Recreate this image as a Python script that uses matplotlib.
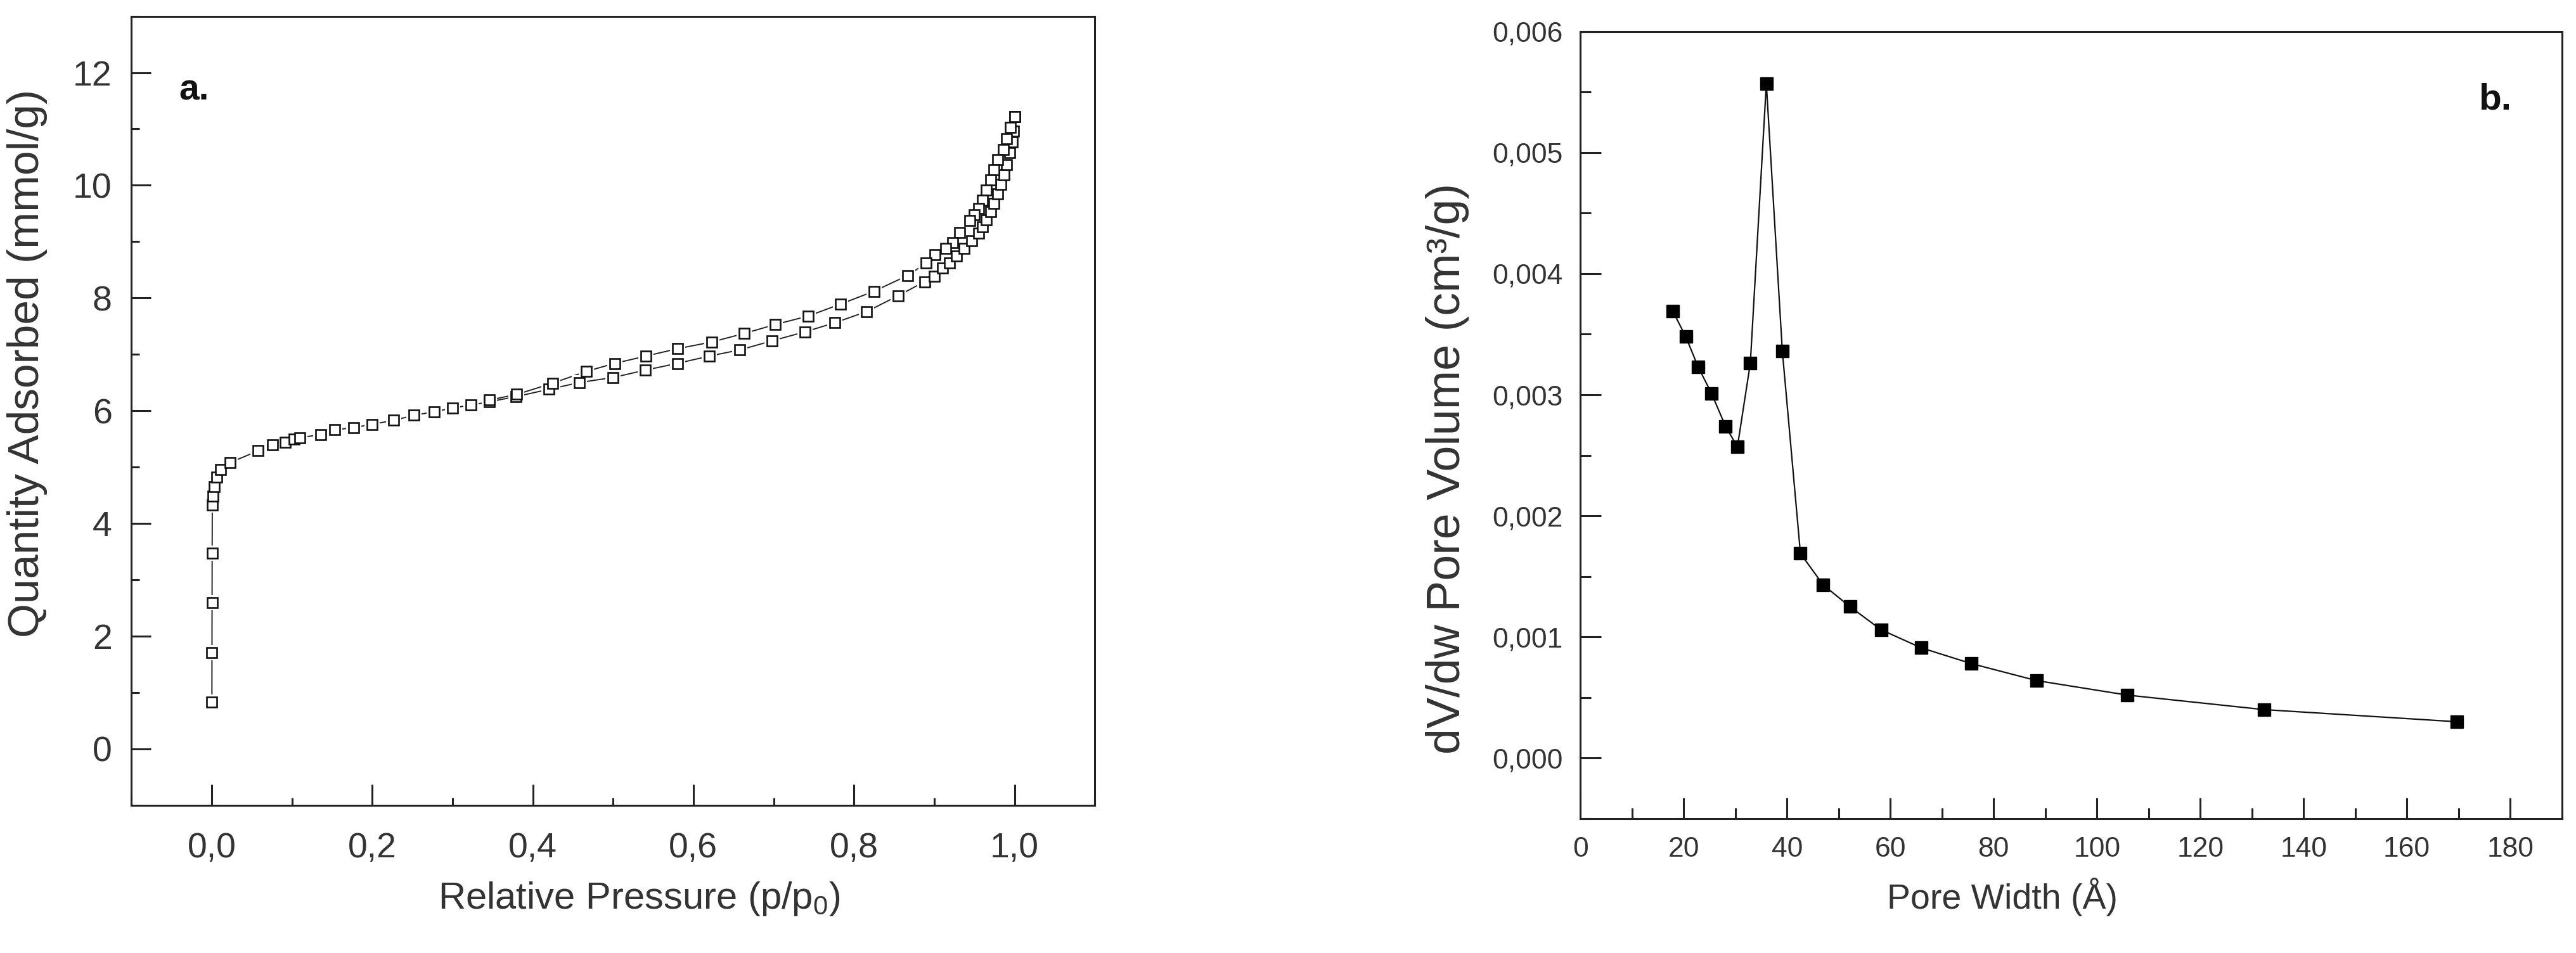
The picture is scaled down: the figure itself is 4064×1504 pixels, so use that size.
import matplotlib
matplotlib.use("Agg")
import matplotlib.pyplot as plt
from matplotlib.ticker import MultipleLocator, FixedLocator, FuncFormatter

# ---------------- data ----------------
# (a) N2 isotherm: adsorption branch
ads_p = [0.0003, 0.0004, 0.0005, 0.0006, 0.0008, 0.0018, 0.0035, 0.006, 0.011, 0.023,
         0.058, 0.076, 0.092, 0.103, 0.11, 0.136, 0.153, 0.177, 0.2, 0.227, 0.252,
         0.277, 0.30, 0.323, 0.346, 0.379, 0.42, 0.458, 0.50, 0.54, 0.58, 0.62, 0.658,
         0.698, 0.739, 0.776, 0.816, 0.855, 0.888, 0.90, 0.91, 0.919, 0.928, 0.937,
         0.947, 0.955, 0.96, 0.965, 0.97, 0.974, 0.979, 0.983, 0.987, 0.99, 0.994,
         0.997, 0.999, 1.0]
ads_q = [0.83, 1.71, 2.60, 3.47, 4.33, 4.49, 4.65, 4.82, 4.96, 5.08,
         5.29, 5.39, 5.44, 5.50, 5.52, 5.58, 5.66, 5.70, 5.76, 5.83, 5.92,
         5.98, 6.05, 6.10, 6.16, 6.25, 6.38, 6.50, 6.59, 6.72, 6.84, 6.97, 7.08,
         7.24, 7.40, 7.56, 7.76, 8.04, 8.29, 8.39, 8.53, 8.62, 8.75, 8.88,
         9.02, 9.15, 9.26, 9.39, 9.53, 9.68, 9.85, 10.02, 10.18, 10.36, 10.58,
         10.77, 10.96, 11.22]
# desorption branch
des_p = [1.0, 0.995, 0.99, 0.986, 0.979, 0.974, 0.97, 0.965, 0.96, 0.955, 0.95,
         0.944, 0.932, 0.923, 0.914, 0.901, 0.89, 0.867, 0.825, 0.783, 0.743,
         0.702, 0.663, 0.623, 0.58, 0.541, 0.502, 0.467, 0.425, 0.38, 0.346]
des_q = [11.22, 11.03, 10.82, 10.63, 10.45, 10.28, 10.09, 9.91, 9.74, 9.59, 9.48,
         9.37, 9.16, 8.98, 8.88, 8.77, 8.62, 8.40, 8.12, 7.89, 7.68,
         7.53, 7.37, 7.22, 7.10, 6.97, 6.84, 6.70, 6.49, 6.29, 6.19]

# (b) pore size distribution
pore_w = [17.9, 20.4, 22.8, 25.4, 28.1, 30.4, 32.9, 36.0, 39.1, 42.6, 47.0, 52.2,
          58.2, 66.0, 75.7, 88.3, 105.9, 132.4, 169.7]
pore_v = [0.00369, 0.00348, 0.00323, 0.00301, 0.00274, 0.00257, 0.00326, 0.00557,
          0.00336, 0.00169, 0.00143, 0.00125, 0.00106, 0.00091, 0.00078, 0.00064,
          0.00052, 0.00040, 0.00030]

a_xticks = [0.0, 0.2, 0.4, 0.6, 0.8, 1.0]
a_yticks = [0, 2, 4, 6, 8, 10, 12]
b_xticks = [0, 20, 40, 60, 80, 100, 120, 140, 160, 180]
b_yticks = [0.000, 0.001, 0.002, 0.003, 0.004, 0.005, 0.006]

# ---------------- style ----------------
plt.rcParams['mathtext.fontset'] = 'custom'
plt.rcParams['mathtext.rm'] = 'Liberation Sans'
plt.rcParams['mathtext.it'] = 'Liberation Sans'
plt.rcParams['font.family'] = ['Liberation Sans', 'DejaVu Sans']
narrow = ['Liberation Sans Narrow', 'Liberation Sans', 'DejaVu Sans']
TXT = '#333333'

fig = plt.figure(figsize=(40.64, 15.04), dpi=100)
ax1 = fig.add_axes([0.051, 0.155, 0.374, 0.828])
ax2 = fig.add_axes([0.6135, 0.141, 0.381, 0.826])

for ax in (ax1, ax2):
    for s in ax.spines.values():
        s.set_linewidth(2.2)
        s.set_color('#222222')
    ax.tick_params(which='both', direction='in', top=False, right=False,
                   color='#222222', width=2.2)

# ---- panel a ----
for px, qy in ((ads_p, ads_q), (des_p, des_q)):
    ax1.plot(px, qy, '-', color='#222222', lw=1.4, zorder=2)
    # small white gap around each symbol, as in the original
    ax1.plot(px, qy, 's', ms=17, mfc='white', mec='white', mew=0, zorder=3)
for px, qy in ((ads_p, ads_q), (des_p, des_q)):
    ax1.plot(px, qy, 's', ms=12, mfc='white', mec='#111111', mew=1.9, zorder=4)
ax1.set_xlim(-0.1, 1.1)
ax1.set_ylim(-1, 13)
ax1.xaxis.set_major_locator(FixedLocator(a_xticks))
ax1.xaxis.set_minor_locator(MultipleLocator(0.1))
ax1.yaxis.set_major_locator(FixedLocator(a_yticks))
ax1.yaxis.set_minor_locator(MultipleLocator(1))
ax1.xaxis.set_major_formatter(FuncFormatter(lambda v, p: f"{v:.1f}".replace('.', ',')))
ax1.yaxis.set_major_formatter(FuncFormatter(lambda v, p: f"{v:.0f}"))
ax1.tick_params(axis='x', which='major', length=24, pad=30)
ax1.tick_params(axis='y', which='major', length=22, pad=22)
ax1.tick_params(which='minor', length=9)
for lab in ax1.get_xticklabels() + ax1.get_yticklabels():
    lab.set_family(narrow)
    lab.set_fontsize(40)
    lab.set_color(TXT)
ax1.set_xlabel(r'Relative Pressure (p/p$_0$)', fontsize=43, color=TXT, family=narrow)
ax1.xaxis.set_label_coords(0.527, -0.095)
ax1.set_ylabel('Quantity Adsorbed (mmol/g)', fontsize=50, color=TXT)
ax1.yaxis.set_label_coords(-0.087, 0.56)
ax1.text(0.065, 0.906, 'a.', transform=ax1.transAxes, fontsize=41,
         fontweight='bold', ha='center', va='center', color='#111111')

# ---- panel b ----
ax2.plot(pore_w, pore_v, '-', color='#111111', lw=1.6, marker='s', ms=14,
         mfc='#000000', mec='#000000')
ax2.set_xlim(0, 190)
ax2.set_ylim(-0.0005, 0.006)
ax2.xaxis.set_major_locator(FixedLocator(b_xticks))
ax2.xaxis.set_minor_locator(MultipleLocator(10))
ax2.yaxis.set_major_locator(FixedLocator(b_yticks))
ax2.yaxis.set_minor_locator(MultipleLocator(0.0005))
ax2.xaxis.set_major_formatter(FuncFormatter(lambda v, p: f"{v:.0f}"))
ax2.yaxis.set_major_formatter(FuncFormatter(lambda v, p: f"{v:.3f}".replace('.', ',')))
ax2.tick_params(which='major', length=24, pad=20)
ax2.tick_params(which='minor', length=12)
for lab in ax2.get_xticklabels() + ax2.get_yticklabels():
    lab.set_family(narrow)
    lab.set_fontsize(32)
    lab.set_color(TXT)
ax2.set_xlabel('Pore Width (Å)', fontsize=40, color=TXT, family=narrow)
ax2.xaxis.set_label_coords(0.43, -0.075)
ax2.set_ylabel('dV/dw Pore Volume (cm³/g)', fontsize=53, color=TXT)
ax2.yaxis.set_label_coords(-0.113, 0.445)
ax2.text(0.932, 0.913, 'b.', transform=ax2.transAxes, fontsize=42,
         fontweight='bold', ha='center', va='center', color='#111111')

fig.savefig('out.png', dpi=100, facecolor='white')
